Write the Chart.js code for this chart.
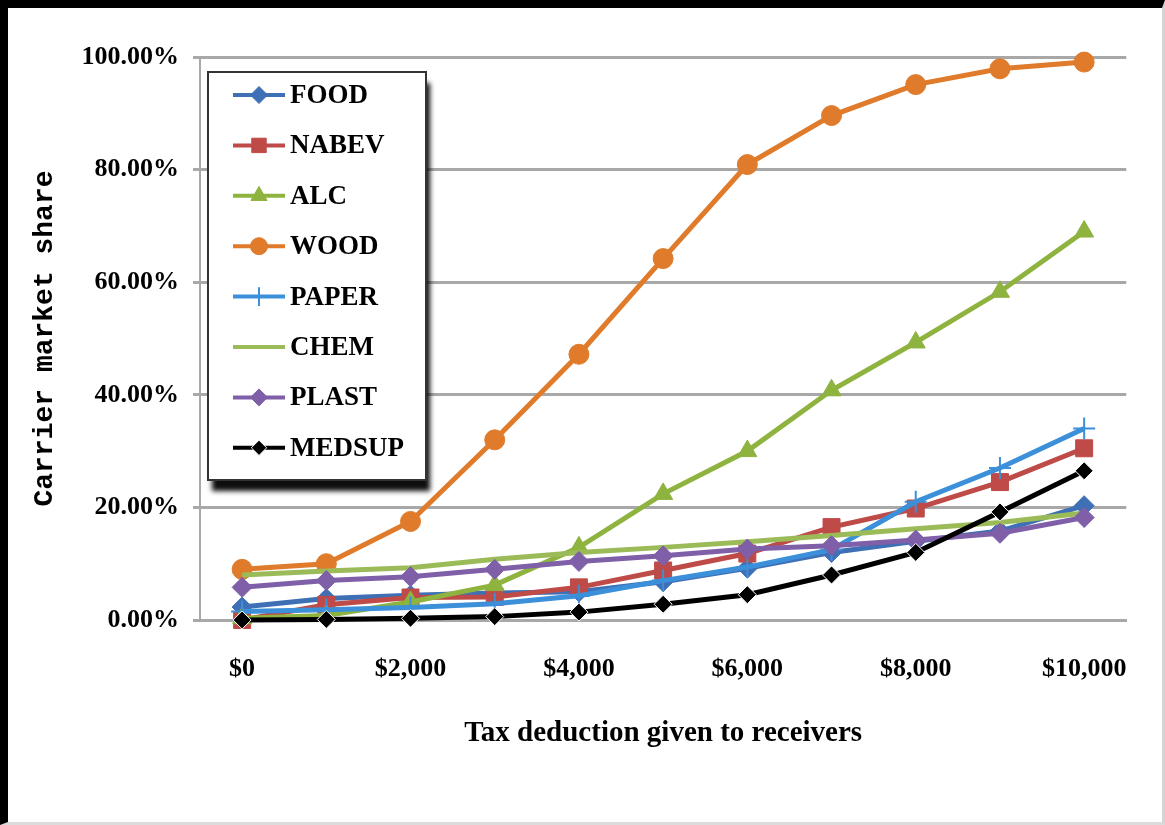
<!DOCTYPE html>
<html>
<head>
<meta charset="utf-8">
<script src="https://cdn.jsdelivr.net/npm/chart.js@4/dist/chart.umd.min.js"></script>
<style>
  html, body { margin: 0; padding: 0; background: #fff; width: 1165px; height: 825px; overflow: hidden; }
  #frame {
    position: absolute; left: 0; top: 0; width: 1165px; height: 825px;
    box-sizing: border-box; background: #fff;
    border-top: 8px solid #000; border-left: 8px solid #000;
    border-right: 3px solid #d4d4d4; border-bottom: 3px solid #dcdcdc;
  }
  #marketChart { display: block; }
</style>
</head>
<body>
<div id="frame"><canvas id="marketChart" width="1154" height="813"></canvas></div>
<script>
// ── DATA ─────────────────────────────────────────────────────────────
const deductions = ['$0','$1,000','$2,000','$3,000','$4,000','$5,000','$6,000','$7,000','$8,000','$9,000','$10,000'];
const yTicks = [0, 20, 40, 60, 80, 100];

const food   = [2.3, 3.8, 4.4, 4.8, 5.0, 6.8, 9.2, 12.0, 14.0, 15.8, 20.3];
const nabev  = [0.0, 2.7, 4.0, 4.1, 5.8, 8.8, 11.8, 16.5, 19.8, 24.5, 30.5];
const alc    = [0.3, 0.8, 3.2, 6.2, 12.9, 22.4, 30.0, 40.8, 49.3, 58.3, 69.0];
const wood   = [9.0, 10.0, 17.5, 32.0, 47.2, 64.2, 80.9, 89.6, 95.1, 97.9, 99.1];
const paper  = [1.5, 1.8, 2.2, 2.9, 4.3, 7.0, 9.4, 12.5, 21.0, 27.0, 34.0];
const chem   = [8.0, 8.7, 9.3, 10.8, 12.0, 12.9, 13.9, 15.0, 16.2, 17.3, 19.0];
const plast  = [5.8, 7.0, 7.7, 9.0, 10.4, 11.4, 12.6, 13.2, 14.2, 15.4, 18.2];
const medsup = [0.0, 0.1, 0.3, 0.6, 1.4, 2.8, 4.5, 8.0, 12.0, 19.2, 26.5];

const COLORS = {
  food: '#3F6FB5', nabev: '#BE4B48', alc: '#8EB33F', wood: '#DF7B2A',
  paper: '#3C8FD9', chem: '#9BBB59', plast: '#7E5FA8', medsup: '#000000',
  grid: '#a8a8a8',
};

function series(label, data, color, pointStyle, radius, extra) {
  return Object.assign({
    label, data, borderColor: color, backgroundColor: color,
    pointStyle, pointRadius: radius, pointHoverRadius: radius,
    pointBackgroundColor: color, pointBorderColor: color, pointBorderWidth: 1,
    borderWidth: 5, tension: 0, fill: false, clip: false,
  }, extra || {});
}

const datasets = [
  series('FOOD',   food,   COLORS.food,   'rectRot',  10),
  series('NABEV',  nabev,  COLORS.nabev,  'rect',     12),
  series('ALC',    alc,    COLORS.alc,    'triangle', 11),
  series('WOOD',   wood,   COLORS.wood,   'circle',   10),
  series('PAPER',  paper,  COLORS.paper,  'cross',    11, { pointBorderWidth: 2 }),
  series('CHEM',   chem,   COLORS.chem,   'line',      0),
  series('PLAST',  plast,  COLORS.plast,  'rectRot',  10),
  series('MEDSUP', medsup, COLORS.medsup, 'rectRot',   9, { pointBorderColor: '#fff' }),
];
// later series sit on top
datasets.forEach((d, i) => { d.order = datasets.length - i; });

// ── LEGEND BOX (drawn over the plot, with drop shadow) ───────────────
const legendBox = {
  id: 'legendBox',
  afterDraw(chart) {
    const ctx = chart.ctx;
    const bx = 200, by = 64, bw = 218, bh = 408;
    ctx.save();
    ctx.shadowColor = 'rgba(0,0,0,0.95)';
    ctx.shadowBlur = 5;
    ctx.shadowOffsetX = 4;
    ctx.shadowOffsetY = 11;
    ctx.fillStyle = '#fff';
    ctx.fillRect(bx, by, bw, bh);
    ctx.restore();

    ctx.save();
    ctx.strokeStyle = '#333';
    ctx.lineWidth = 2;
    ctx.strokeRect(bx, by, bw, bh);

    const rowH = 50.4;
    chart.data.datasets.forEach((d, i) => {
      const cy = by + 23 + i * rowH;
      ctx.strokeStyle = d.borderColor;
      ctx.lineWidth = 4;
      ctx.beginPath();
      ctx.moveTo(bx + 25, cy);
      ctx.lineTo(bx + 77, cy);
      ctx.stroke();
      if (d.pointRadius > 0) {
        ctx.fillStyle = d.pointBackgroundColor;
        ctx.strokeStyle = d.pointBorderColor;
        ctx.lineWidth = d.pointBorderWidth;
        Chart.helpers.drawPoint(ctx, {
          pointStyle: d.pointStyle, radius: d.pointRadius * 0.85,
          rotation: 0, borderWidth: d.pointBorderWidth,
        }, bx + 51, cy);
      }
      ctx.fillStyle = '#000';
      ctx.font = 'bold 27px "Liberation Serif", "Times New Roman", serif';
      ctx.textAlign = 'left';
      ctx.textBaseline = 'middle';
      ctx.fillText(d.label, bx + 82, cy + 1);
    });
    ctx.restore();
  }
};

// ── CHART ────────────────────────────────────────────────────────────
const tickFont = { family: '"Liberation Serif", "Times New Roman", serif', size: 26, weight: 'bold' };

new Chart(document.getElementById('marketChart'), {
  type: 'line',
  data: { labels: deductions, datasets },
  plugins: [legendBox],
  options: {
    responsive: false,
    animation: false,
    layout: { padding: { top: 49, right: 35, left: 0, bottom: 0 } },
    plugins: { legend: { display: false }, tooltip: { enabled: false } },
    scales: {
      x: {
        type: 'category',
        offset: true,
        grid: { display: false, drawTicks: false },
        border: { display: true, color: COLORS.grid, width: 3 },
        ticks: {
          autoSkip: false, maxRotation: 0, color: '#000', font: tickFont, padding: 34,
          callback: (v, i) => (i % 2 === 0 ? deductions[i] : ''),
        },
        title: {
          display: true, text: 'Tax deduction given to receivers', color: '#000',
          font: { family: '"Liberation Serif", "Times New Roman", serif', size: 29, weight: 'bold' },
          padding: { top: 4, bottom: 70 },
        },
        afterFit: s => { s.height = 201; },
      },
      y: {
        min: yTicks[0], max: yTicks[yTicks.length - 1],
        afterBuildTicks: s => { s.ticks = yTicks.map(v => ({ value: v })); },
        grid: { color: COLORS.grid, lineWidth: 3, drawTicks: true, tickLength: 7 },
        border: { display: true, color: COLORS.grid, width: 2 },
        ticks: { color: '#000', font: tickFont, padding: 14, callback: v => v.toFixed(2) + '%' },
        title: {
          display: true, text: 'Carrier market share', color: '#000',
          font: { family: '"Liberation Mono", "Courier New", monospace', size: 28, weight: 'bold' },
          padding: { top: 20, bottom: 0 },
        },
        afterFit: s => { s.width = 192; },
      }
    }
  }
});
</script>
</body>
</html>
